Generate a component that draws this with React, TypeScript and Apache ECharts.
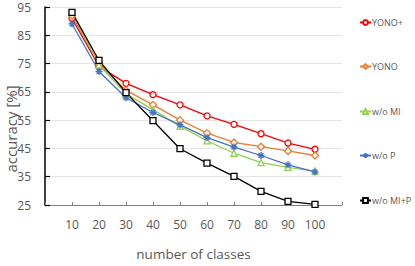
import React, { useEffect, useRef } from "react";
import * as echarts from "echarts";

const categories = [10, 20, 30, 40, 50, 60, 70, 80, 90, 100];
const yonoPlus = [91, 74, 68, 64, 60.4, 56.5, 53.5, 50.2, 46.9, 44.7];
const yono = [92, 75, 65.5, 60.4, 55, 50.4, 47.1, 45.6, 44.1, 42.5];
const woMI = [93, 74.5, 64.3, 58.7, 52.8, 47.7, 43.3, 40, 38.3, 37];
const woP = [89, 72.2, 62.9, 57.7, 53.3, 48.8, 45.5, 42.5, 39.2, 36.7];
const woMIP = [93.1, 76.1, 64.7, 54.8, 44.9, 39.8, 35.1, 29.8, 26.3, 25.2];
const yTicks = [25, 35, 45, 55, 65, 75, 85, 95];

const seriesDefs = [
  { name: "YONO+", data: yonoPlus, color: "#FF0000", symbol: "circle", size: 6 },
  { name: "YONO", data: yono, color: "#ED7D31", symbol: "diamond", size: 7 },
  { name: "w/o MI", data: woMI, color: "#92D050", symbol: "triangle", size: 6 },
  { name: "w/o P", data: woP, color: "#4472C4", symbol: "path://M5,0L5,10M0,5L10,5M1.5,1.5L8.5,8.5M8.5,1.5L1.5,8.5", size: 7 },
  { name: "w/o MI+P", data: woMIP, color: "#000000", symbol: "rect", size: 6 },
];

const legendTops = [18, 62, 107, 151, 196];

export default function App() {
  const ref = useRef<HTMLDivElement>(null);
  useEffect(() => {
    const chart = echarts.init(ref.current!, undefined, { renderer: "svg" });
    const font = "'Open Sans', 'Liberation Sans', sans-serif";
    chart.setOption({
      animation: false,
      backgroundColor: "#ffffff",
      grid: { left: 45, top: 7, right: 73, bottom: 48 },
      graphic: [
        {
          type: "text",
          x: 11,
          y: 129,
          rotation: Math.PI / 2,
          style: {
            text: "accuracy [%]",
            fontSize: 15,
            fontFamily: font,
            fill: "#595959",
            textAlign: "center",
            textVerticalAlign: "middle",
          },
        },
      ],
      legend: seriesDefs.map((s, i) => ({
        data: [s.name],
        left: 359,
        top: legendTops[i],
        itemWidth: 11,
        itemHeight: 6,
        itemGap: 2,
        textStyle: { fontSize: 9, color: "#595959", fontFamily: font, padding: [0, 0, 0, -4] },
        padding: 0,
      })),
      xAxis: {
        type: "value",
        min: 0,
        max: 110,
        interval: 10,
        name: "number of classes",
        nameLocation: "middle",
        nameGap: 42,
        nameTextStyle: { fontSize: 13.5, color: "#595959", fontFamily: font },
        axisLine: { lineStyle: { color: "#808080", width: 1 } },
        axisTick: { show: true, inside: true, length: 3, lineStyle: { color: "#808080" } },
        axisLabel: {
          fontSize: 12,
          color: "#595959",
          fontFamily: font,
          margin: 13,
          formatter: (v: number) => (categories.includes(v) ? String(v) : ""),
        },
        splitLine: { show: false },
      },
      yAxis: {
        type: "value",
        min: yTicks[0],
        max: yTicks[yTicks.length - 1],
        interval: 10,
        axisLine: { show: true, lineStyle: { color: "#000000", width: 1.5 } },
        axisTick: { show: true, inside: true, length: 5, lineStyle: { color: "#000000", width: 1.2 } },
        axisLabel: { fontSize: 12, color: "#595959", fontFamily: font, margin: 14 },
        splitLine: { show: true, lineStyle: { color: "#E6E6E6", width: 1 } },
      },
      series: seriesDefs.map((s) => ({
        name: s.name,
        type: "line",
        data: categories.map((c, i) => [c, s.data[i]]),
        symbol: s.symbol,
        symbolSize: s.size,
        showAllSymbol: true,
        lineStyle: { color: s.color, width: 1.3, type: "solid" },
        itemStyle: { color: s.name === "w/o P" ? s.color : "#ffffff", borderColor: s.color, borderWidth: 1.3 },
      })),
    });
    return () => chart.dispose();
  }, []);
  return (
    <div style={{ position: "absolute", left: 0, top: 0 }}>
      <div ref={ref} style={{ width: 415, height: 266 }} />
    </div>
  );
}
